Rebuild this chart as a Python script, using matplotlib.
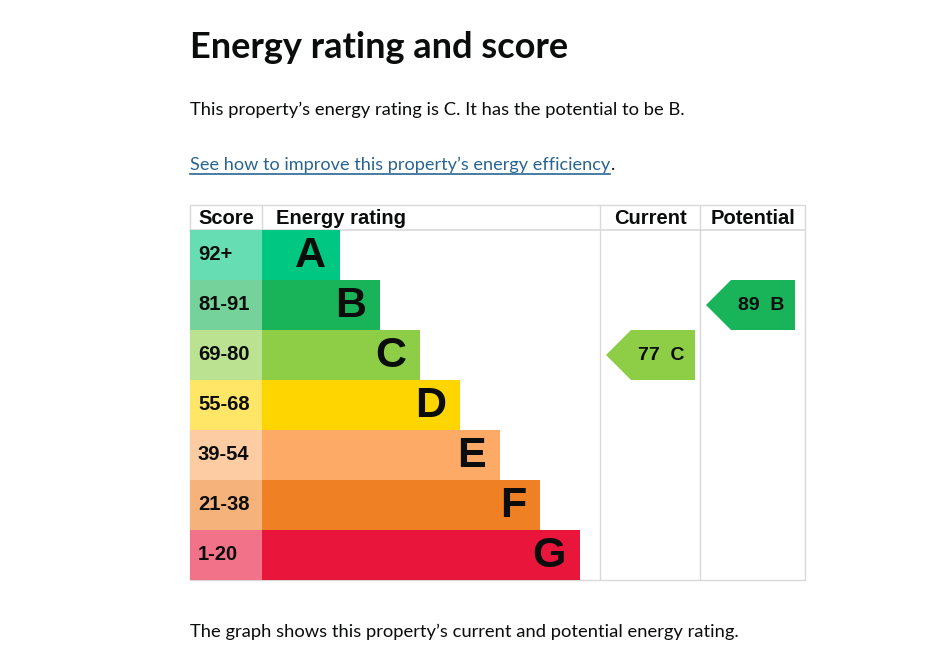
import matplotlib
matplotlib.use("Agg")
import matplotlib.pyplot as plt
from matplotlib.patches import Rectangle, Polygon
from matplotlib.colors import to_rgb

# ---------------- data ----------------
bands = ["A", "B", "C", "D", "E", "F", "G"]
score_ranges = ["92+", "81-91", "69-80", "55-68", "39-54", "21-38", "1-20"]
band_min = [92, 81, 69, 55, 39, 21, 1]
band_colors = ["#00c781", "#19b459", "#8dce46", "#ffd500", "#fcaa65", "#ef8023", "#e9153b"]
current_score = 77
potential_score = 89
columns = ["Score", "Energy rating", "Current", "Potential"]
title = "Energy rating and score"
intro = "This property\u2019s energy rating is C. It has the potential to be B."
link_text = "See how to improve this property\u2019s energy efficiency"
footer = "The graph shows this property\u2019s current and potential energy rating."

# ---------------- layout ----------------
W, H = 943, 658
col_edges = [190, 262, 600, 700, 805]
header_top, header_bottom = 205, 230
row_h = 50
bar_base = 78
bar_step = 40
grid_c = "#d9d9d9"
body_font = "Lato"
table_font = "Liberation Sans"

def band_index(score):
    for i, m in enumerate(band_min):
        if score >= m:
            return i
    return len(band_min) - 1

def lighten(c, f=0.6):
    r, g, b = to_rgb(c)
    return (1 - f + f * r, 1 - f + f * g, 1 - f + f * b)

fig = plt.figure(figsize=(W / 100, H / 100), dpi=100)
ax = fig.add_axes([0, 0, 1, 1])
ax.set_xlim(0, W)
ax.set_ylim(H, 0)
ax.axis("off")

n = len(bands)
table_bottom = header_bottom + n * row_h

# grid / border
ax.add_patch(Rectangle((col_edges[0], header_top), col_edges[-1] - col_edges[0],
                       table_bottom - header_top, fill=False, ec=grid_c, lw=1, zorder=1))
ax.plot([col_edges[0], col_edges[-1]], [header_bottom, header_bottom], color=grid_c, lw=1.2, zorder=1)
for x in col_edges[1:-1]:
    ax.plot([x, x], [header_top, table_bottom], color=grid_c, lw=1, zorder=1)

# header labels
hy = (header_top + header_bottom) / 2 + 1
hkw = dict(fontsize=14.5, fontweight="bold", family=table_font, va="center", color="#0b0c0c")
ax.text(col_edges[0] + 8, hy, columns[0], ha="left", **hkw)
ax.text(col_edges[1] + 14, hy, columns[1], ha="left", **hkw)
ax.text((col_edges[2] + col_edges[3]) / 2, hy, columns[2], ha="center", **hkw)
ax.text((col_edges[3] + col_edges[4]) / 2, hy, columns[3], ha="center", **hkw)

# rows
for i, (b, rng, col) in enumerate(zip(bands, score_ranges, band_colors)):
    y0 = header_bottom + i * row_h
    yc = y0 + row_h / 2
    ax.add_patch(Rectangle((col_edges[0], y0), col_edges[1] - col_edges[0], row_h,
                           fc=lighten(col), ec="none", zorder=2))
    bar_w = bar_base + bar_step * i
    ax.add_patch(Rectangle((col_edges[1], y0), bar_w, row_h, fc=col, ec="none", zorder=2))
    ax.text(col_edges[0] + 8, yc - 1, rng, ha="left", va="center", fontsize=14.5,
            fontweight="bold", family=table_font, color="#0b0c0c", zorder=3)
    ax.text(col_edges[1] + bar_w - 14, yc + 1, b, ha="right", va="center", fontsize=31,
            fontweight="bold", family=table_font, color="#0b0c0c", zorder=3)

# arrows
def arrow(score, col_left):
    i = band_index(score)
    y0 = header_bottom + i * row_h
    tip = col_left + 6
    right = col_left + 95
    notch = tip + 25
    pts = [(tip, y0 + row_h / 2), (notch, y0), (right, y0), (right, y0 + row_h), (notch, y0 + row_h)]
    ax.add_patch(Polygon(pts, closed=True, fc=band_colors[i], ec="none", zorder=2))
    ax.text((notch + right) / 2 - 2, y0 + row_h / 2 + 1, f"{score}  {bands[i]}", ha="center",
            va="center", fontsize=14, fontweight="bold", family=table_font,
            color="#0b0c0c", zorder=3)

arrow(current_score, col_edges[2])
arrow(potential_score, col_edges[3])

# page texts
t_title = ax.text(190, 58, title, ha="left", va="baseline", fontsize=26, fontweight="bold",
                  family=body_font, color="#0b0c0c")
t_intro = ax.text(190, 115, intro, ha="left", va="baseline", fontsize=14,
                  family=body_font, color="#0b0c0c")
t_link = ax.text(190, 170, link_text, ha="left", va="baseline", fontsize=14,
                 family=body_font, color="#2a6592")
t_foot = ax.text(190, 637, footer, ha="left", va="baseline", fontsize=14,
                 family=body_font, color="#0b0c0c")

fig.canvas.draw()
r = fig.canvas.get_renderer()

def fit(t, target_w):
    bb = t.get_window_extent(renderer=r)
    t.set_fontsize(t.get_fontsize() * target_w / bb.width)

fit(t_title, 378)
fit(t_intro, 493)
fit(t_link, 423)
fit(t_foot, 550)
fig.canvas.draw()
bb = t_link.get_window_extent(renderer=r)
inv = ax.transData.inverted()
x1 = inv.transform((bb.x1, bb.y0))[0]
ax.plot([190, x1], [174, 174], color="#2a6592", lw=1.2)
ax.text(x1 + 1, 170, ".", ha="left", va="baseline", fontsize=t_link.get_fontsize(),
        family=body_font, color="#0b0c0c")

fig.savefig("out.png", dpi=100, facecolor="white")
